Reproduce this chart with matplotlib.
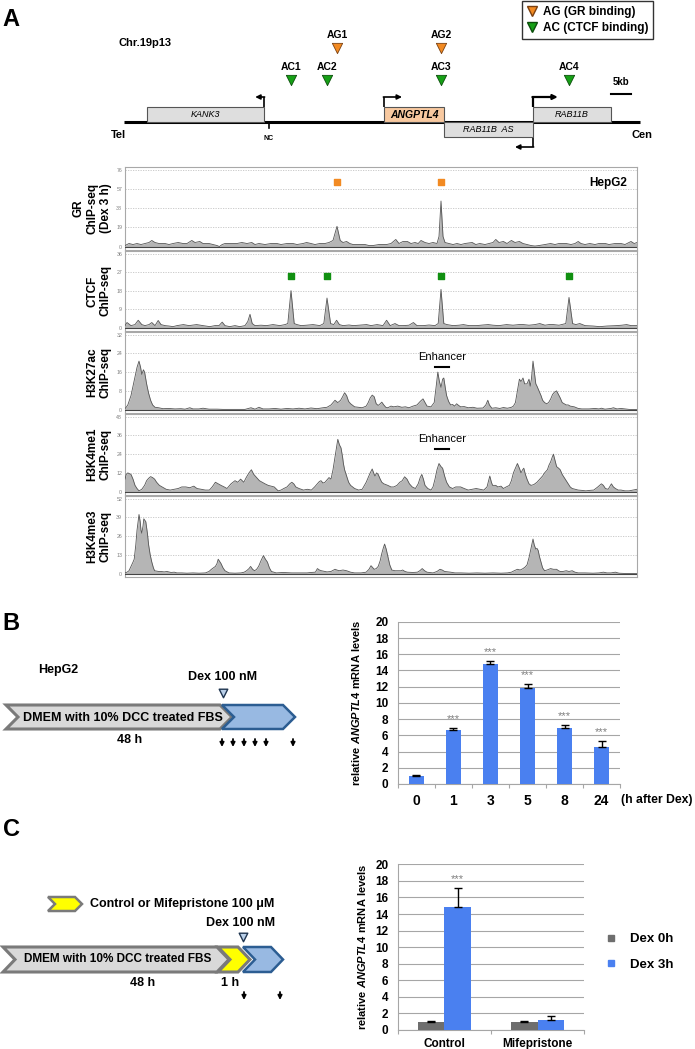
import numpy as np
import matplotlib.pyplot as plt
from matplotlib.patches import Rectangle, Polygon
from matplotlib.lines import Line2D

plt.rcParams['font.family'] = ['Liberation Sans', 'DejaVu Sans']
plt.rcParams['mathtext.fontset'] = 'custom'
plt.rcParams['mathtext.it'] = 'Liberation Sans:italic:bold'
plt.rcParams['mathtext.rm'] = 'Liberation Sans:bold'

W, H = 695, 1049

# ---------------- data ----------------
# genomic positions in kb along the shown locus (0 .. 128 kb)
gene_names = ['KANK3', 'ANGPTL4', 'RAB11B  AS', 'RAB11B']
gene_start = [5.5, 64.75, 79.75, 102.0]
gene_end = [34.75, 79.75, 102.0, 121.5]
gene_strand = [-1, 1, -1, 1]
gene_side = ['up', 'up', 'down', 'up']

ag_names = ['AG1', 'AG2']
ag_sites = [53.0, 79.0]
ac_names = ['AC1', 'AC2', 'AC3', 'AC4']
ac_sites = [41.5, 50.5, 79.0, 111.0]
nc_site = 36.0

# ChIP-seq tracks: (kb, signal)
gr_chip = [(0, 1), (1, 3), (2, 2), (3, 3), (4, 2), (5, 3), (6, 4), (6.7, 6), (7.5, 4), (8.5, 3), (10, 3),
           (11, 2), (12, 3), (13.3, 4), (14.5, 3), (15.5, 3), (16.7, 6), (17.5, 4), (18.7, 5), (19.5, 3),
           (21, 3), (22, 2), (23, 1), (23.6, 0), (24.3, 2), (25, 3), (26, 3), (27, 3), (28, 3), (29.2, 4),
           (30.5, 3), (31.7, 4), (32.5, 2), (33.5, 3), (35, 2), (36.5, 3), (38, 3), (39, 2), (40.5, 3),
           (42, 3), (43, 2), (44.5, 3), (45.4, 4), (46.5, 3), (47.5, 2), (48.7, 3), (50, 3), (51, 4),
           (52, 6), (53, 20), (53.8, 6), (54.5, 4), (55.4, 5), (56.2, 3), (57, 2), (58.5, 2), (60, 2),
           (61, 1), (62, 1), (63.5, 2), (65.4, 2), (66.5, 3), (67.7, 7), (68.5, 3), (69.5, 5), (70.6, 5),
           (71.5, 3), (72.5, 4), (73.3, 3), (74, 6), (75, 4), (76, 3), (77, 4), (78, 3), (78.5, 10),
           (79, 45), (79.5, 10), (80, 4), (81, 3), (82, 2), (83, 3), (84, 2), (85, 3), (86.8, 4), (87.7, 2),
           (88.7, 3), (90, 2), (91, 3), (92, 4), (92.7, 7), (93.5, 4), (94.6, 5), (95.5, 3), (96.6, 6),
           (97.5, 4), (98.6, 5), (99.5, 3), (100.5, 2), (101.5, 1), (102.5, 0.5), (103.5, 1), (105, 2),
           (106.4, 3), (107.5, 2), (108.5, 3), (110.3, 3), (111.5, 2), (112.5, 3), (113.3, 5), (114, 3),
           (115, 2), (116.2, 3), (117.5, 2), (118.5, 3), (120.1, 3), (121, 2), (122.5, 3), (124, 3),
           (125, 2), (126.5, 5), (127.3, 3), (128, 4)]

ctcf_chip = [(0, 1), (0.5, 2.5), (1.5, 1), (2.5, 1.5), (3.3, 3.6), (4.2, 1.5), (5, 1), (6, 1.5), (6.7, 2.5),
             (7.5, 1), (8.3, 3.5), (9, 1.5), (10, 1), (11, 0.8), (12, 0.5), (13, 1), (14.6, 1.5), (16, 1),
             (17.9, 1.5), (19.5, 1), (21.2, 0.5), (22.5, 1), (23.5, 1), (24.3, 2.7), (25, 1), (26.2, 0.5),
             (27.5, 1), (28.7, 0.5), (30, 1), (30.7, 3), (31.25, 6.5), (31.8, 2), (32.5, 1), (34, 1.2),
             (35.4, 1), (37, 1.5), (38.7, 1), (40, 1.5), (40.7, 2), (41.5, 18), (42.3, 2), (43, 1.5),
             (44, 1), (45.4, 1.2), (47, 1.5), (48.7, 1), (49.7, 2), (50.5, 14.4), (51.4, 2), (52.2, 1.5),
             (52.9, 3.6), (53.6, 1.5), (54.5, 1), (56, 1.3), (57.1, 1), (58.5, 1.2), (60.4, 1.5), (61.5, 1),
             (63, 1.5), (64.5, 1), (65.4, 3.6), (66.3, 1), (67.5, 2), (68.5, 1), (69.6, 1), (71, 1.2),
             (72.1, 2.5), (73, 1), (74.6, 1), (76, 1.3), (77.5, 1), (78.3, 2), (79, 18.6), (79.7, 2),
             (80.5, 1.5), (82, 1), (83.5, 1.2), (84.6, 1.5), (86, 1), (87.9, 1), (89.5, 1.3), (90.8, 1.5),
             (92, 1.2), (93.5, 1), (95.4, 1.5), (97, 1.2), (98.5, 1.5), (99.6, 1.5), (101, 1.2), (102.5, 1.5),
             (103.7, 2), (105, 1.2), (106, 1.5), (107.1, 1.5), (108.5, 1.2), (110.2, 2), (111, 14.7),
             (111.9, 2), (112.7, 1.5), (113.7, 2), (115, 1), (117, 0.8), (118.7, 0.5), (120.5, 0.8),
             (122.9, 1), (124.2, 1.2), (125.4, 1.5), (126.5, 1), (127.1, 1), (128, 1)]

h3k27ac_chip = [(0, 0.5), (0.3, 1), (0.7, 2), (1.5, 6), (2, 10), (2.5, 14), (3, 18), (3.5, 20.7), (3.9, 18),
                (4.2, 15), (4.6, 17), (4.9, 16), (5.4, 11), (5.9, 7), (6.4, 4), (6.9, 2), (7.5, 1), (8.4, 0.8),
                (9.5, 0.4), (11, 0.5), (12.5, 0.3), (14, 0.4), (15, 0.2), (16.2, 0.8), (17, 0.3), (18.5, 0.3),
                (19.5, 0.6), (21, 0.2), (23, 0.2), (24.5, 0.1), (30, 0.1), (31.5, 0.8), (32.5, 0.2), (33.5, 1),
                (34.5, 0.3), (36, 0.3), (37.5, 0.5), (39, 0.2), (40.5, 0.5), (42, 0.3), (43.5, 0.6), (45, 0.3),
                (46.5, 0.7), (48, 0.4), (49.5, 0.8), (50.5, 1), (51.5, 2), (52.5, 4), (53.2, 3), (53.9, 4),
                (54.4, 5.5), (54.9, 7.2), (55.4, 6), (55.9, 3.5), (56.4, 2.5), (57.4, 1.2), (58.4, 1),
                (59.3, 0.8), (60.3, 1.5), (60.8, 3), (61.3, 5), (61.8, 6.2), (62.3, 5.5), (62.8, 2.5),
                (63.3, 1.8), (63.8, 2.5), (64.2, 3.2), (64.7, 2), (65.2, 1), (65.7, 0.8), (66.5, 1.5),
                (67.2, 1.2), (68.2, 1.5), (69.2, 1), (70.1, 1.2), (71, 0.8), (72, 1.5), (73, 2), (73.8, 3.5),
                (74.5, 4.6), (75, 3), (75.5, 1.5), (76.5, 1.2), (77.3, 3), (77.8, 10), (78.2, 16), (78.6, 12),
                (79, 9.5), (79.4, 13), (79.7, 13.5), (80.1, 9), (80.4, 6), (80.9, 3.5), (81.4, 2), (81.9, 2.2),
                (82.4, 1.5), (82.9, 2.5), (83.4, 1.8), (83.9, 1.2), (84.8, 1.3), (85.8, 0.8), (87, 1),
                (88, 0.6), (89.5, 0.7), (90.2, 2), (90.7, 4), (91.1, 2), (91.7, 0.6), (92.7, 0.8), (93.7, 0.5),
                (94.6, 0.9), (95.6, 0.6), (96.6, 1), (97.1, 1.5), (97.6, 3), (98.1, 8), (98.6, 13), (99, 12),
                (99.5, 13.5), (99.9, 11), (100.5, 11), (101, 13), (101.3, 10), (101.6, 13), (102, 20.7),
                (102.4, 15), (102.7, 11), (103, 10), (103.5, 8), (104, 6), (104.4, 4), (104.9, 3), (105.4, 2.5),
                (105.9, 3), (106.4, 4.5), (106.9, 6.5), (107.4, 7.5), (107.9, 8), (108.2, 7), (108.8, 5),
                (109.3, 3), (109.8, 2.5), (110.3, 2), (110.8, 2), (111.3, 1.5), (112.3, 1.2), (113.3, 0.5),
                (114.2, 0.3), (116, 0.3), (117.5, 0.5), (118.5, 0.3), (119.1, 0.6), (120, 0.2), (121.5, 0.5),
                (122.1, 0.8), (123, 0.3), (124, 0.5), (125, 0.3), (126, 0.1), (128, 0)]

h3k4me1_chip = [(0, 8), (0.3, 11), (0.7, 12), (1.5, 11), (2, 8), (2.5, 4), (3, 2), (3.5, 0.5), (4.2, 1.5),
                (4.9, 4), (5.4, 7), (5.9, 8.5), (6.4, 9.6), (6.9, 9), (7.4, 8), (7.9, 6), (8.6, 4), (9.3, 3),
                (10.3, 1.5), (11.3, 1), (12.3, 1.5), (13.3, 2), (14.2, 3), (15.2, 3), (16.2, 2.5), (17.2, 3.5),
                (18, 2), (19.1, 1.5), (20.1, 1), (21.1, 1), (21.8, 3), (22.6, 6), (23.3, 5), (24, 4), (24.8, 3),
                (25.5, 2), (26.5, 5), (27.5, 7), (28.2, 6), (28.9, 8), (29.7, 6), (30.3, 9), (31, 12),
                (31.6, 14), (32.2, 11), (32.9, 9), (33.6, 7), (34.3, 6), (35, 5), (35.8, 4), (36.5, 3.5),
                (37.3, 3), (38.3, 0.5), (39, 1), (39.7, 2), (40.5, 3), (41.2, 5), (41.7, 6), (42.2, 5),
                (42.7, 3), (43.5, 2), (44.6, 1), (45.6, 1.5), (46.6, 1), (47.4, 3), (48.1, 5), (48.6, 6.5),
                (49, 7), (49.5, 5.5), (50, 6), (50.5, 7.5), (51, 9), (51.5, 8), (52, 14), (52.5, 22),
                (53.2, 33.5), (53.6, 30), (54, 28), (54.4, 22), (54.6, 18), (54.9, 14), (55.4, 10), (55.9, 6),
                (56.4, 4), (57.4, 2), (58.4, 1), (59.3, 1.5), (60.3, 6), (60.8, 9), (61.3, 12), (61.8, 14.5),
                (62.3, 11), (62.5, 10), (62.9, 12), (63.3, 11), (63.8, 8), (64.2, 6), (64.7, 5), (65.7, 4),
                (66.5, 3), (67.2, 3), (68, 4), (68.7, 6), (69.3, 7), (69.9, 9.5), (70.5, 8), (71.1, 5),
                (71.8, 3), (72.6, 2), (73.3, 5), (73.8, 9), (74.2, 11), (74.6, 8), (75, 4), (75.7, 2),
                (76.5, 1), (77, 3), (77.5, 8), (78, 14), (78.5, 18), (79, 16), (79.4, 15), (79.9, 10),
                (80.4, 6), (81.1, 3), (81.9, 2), (82.7, 3), (83.9, 3), (84.8, 2), (85.8, 1), (86.8, 1.5),
                (87.8, 2), (88.7, 1.5), (89.7, 1), (90.5, 3), (91.2, 10), (91.6, 6), (91.9, 4), (92.7, 4),
                (93.2, 3), (94, 3.5), (94.6, 2), (95.3, 3), (96.1, 4), (96.6, 7), (97.1, 12), (97.6, 15),
                (98.1, 18), (98.6, 15), (99, 12), (99.4, 14), (99.7, 15), (100.1, 11), (100.5, 8), (101, 5),
                (101.5, 4), (102.2, 4.5), (103, 6), (103.7, 8), (104.4, 10), (104.9, 12), (105.6, 14),
                (106, 17), (106.4, 19), (106.8, 22), (107.1, 24), (107.5, 20), (107.9, 16), (108.4, 15),
                (108.8, 14), (109.3, 11), (109.8, 9), (110.3, 7), (110.8, 5), (111.3, 3), (111.8, 2),
                (112.5, 1.5), (113.3, 1), (114.2, 0.8), (115.2, 0.5), (116.2, 0.8), (117.2, 1), (118.2, 3),
                (119.1, 5), (119.6, 4), (120.1, 2), (120.8, 1.5), (121.6, 5), (122.1, 3), (122.6, 2),
                (123.3, 1), (124, 1), (125, 0.5), (126, 0.5), (127, 1), (128, 1.5)]

h3k4me3_chip = [(0, 0.5), (0.5, 1), (1, 2), (1.5, 5), (2, 8), (2.3, 10), (2.7, 20), (3, 30), (3.5, 41),
                (3.8, 36), (4, 30), (4.2, 28), (4.5, 33), (4.7, 38), (5.2, 36), (5.6, 28), (5.9, 20),
                (6.3, 13), (6.7, 8), (7.1, 4), (7.4, 2), (8.4, 1.5), (9, 1.5), (9.8, 1.2), (10.5, 1.5),
                (11.5, 0.8), (12.3, 1), (13, 0.5), (14.2, 0.5), (15.5, 0.3), (17, 0.5), (18.5, 0.3),
                (20.1, 0.5), (21, 1.5), (21.6, 3), (22.6, 5), (23, 7), (23.3, 10), (24, 7), (24.5, 4),
                (25, 2), (26, 0.5), (27.5, 0.3), (29, 0.5), (29.8, 1), (30.4, 2), (31, 3.5), (31.4, 5),
                (31.9, 3), (32.4, 2), (32.9, 3), (33.4, 5), (34, 9), (34.6, 12.5), (35.1, 10), (35.6, 8),
                (36.1, 4), (36.6, 1.5), (37.8, 0.5), (39.5, 0.8), (41.7, 0.5), (43.7, 0.5), (45.5, 0.5),
                (46.5, 0.8), (47.6, 1), (48.1, 3.5), (48.6, 2.5), (49.1, 2), (50, 1.5), (50.5, 1.2),
                (51.5, 1.5), (52.5, 3), (53, 2.5), (53.5, 2), (54.5, 2.5), (55.4, 2), (56.4, 1), (57.4, 0.5),
                (59, 0.5), (60.3, 1), (61, 3), (61.5, 5.5), (62, 4), (62.3, 3), (62.8, 3.5), (63.3, 5),
                (63.8, 9), (64.2, 14), (64.6, 18), (64.9, 20.5), (65.3, 17), (65.7, 12), (66.2, 6),
                (66.7, 2.5), (67.5, 2), (68.2, 2), (69, 2), (69.4, 2.5), (70, 1.5), (70.6, 1), (72, 0.8),
                (73.1, 1), (73.7, 2), (74.3, 3.5), (74.9, 2), (75.5, 1), (77, 0.5), (78, 1.5), (78.75, 3),
                (79.3, 2.5), (79.9, 1.5), (81.4, 1), (82.5, 0.5), (84, 0.5), (86, 0.3), (88, 0.5), (90, 0.3),
                (92, 0.5), (94, 0.3), (95.6, 0.5), (96.6, 1), (97.3, 2), (98.1, 3), (98.8, 2.5), (99.5, 3.5),
                (100, 4.5), (100.5, 6), (101, 11), (101.3, 15), (101.6, 19), (102, 24), (102.3, 20),
                (102.7, 17), (103, 17.5), (103.3, 16), (103.6, 12), (104, 8), (104.4, 4), (104.9, 2),
                (105.5, 2.5), (106.4, 3.5), (107.1, 3), (107.9, 3), (108.4, 2), (108.8, 1.5), (109.5, 1.5),
                (110.3, 2), (111, 1.5), (111.8, 2), (112.5, 1), (113.3, 0.5), (115, 0.5), (117, 0.3),
                (118.5, 0.5), (119.6, 1), (120.5, 0.5), (121.5, 0.5), (122.6, 1), (123.5, 0.3), (125, 0.1),
                (128, 0)]

track_labels = ['GR\nChIP-seq\n(Dex 3 h)', 'CTCF\nChIP-seq', 'H3K27ac\nChIP-seq',
                'H3K4me1\nChIP-seq', 'H3K4me3\nChIP-seq']
track_max = [76, 36, 32, 48, 52]
track_data = [gr_chip, ctcf_chip, h3k27ac_chip, h3k4me1_chip, h3k4me3_chip]

# panel B: time course after Dex
hours = ['0', '1', '3', '5', '8', '24']
mrna_mean = [1.0, 6.6, 14.8, 11.8, 6.9, 4.6]
mrna_err = [0.15, 0.3, 0.35, 0.5, 0.4, 0.7]
mrna_sig = ['', '***', '***', '***', '***', '***']

# panel C: mifepristone
treatments = ['Control', 'Mifepristone']
dex0_mean = [1.0, 1.0]
dex0_err = [0.05, 0.05]
dex3_mean = [14.9, 1.15]
dex3_err = [2.25, 0.5]
dex3_sig = ['***', '']

ORANGE = '#f28a22'
GREEN = '#16a016'
BLUE = '#4a80f0'
GRAYBAR = '#6e6e6e'


def px_rect(x0, y0, x1, y1):
    return [x0 / W, 1 - y1 / H, (x1 - x0) / W, (y1 - y0) / H]


def ftxt(x, y, s, **kw):
    fig.text(x / W, 1 - y / H, s, **kw)


fig = plt.figure(figsize=(W / 100, H / 100), dpi=100)

# overlay in pixel coordinates for the schematics of B and C
ov = fig.add_axes([0, 0, 1, 1])
ov.set_xlim(0, W)
ov.set_ylim(H, 0)
ov.axis('off')

# ---------------- panel A: locus schematic ----------------
sc = fig.add_axes(px_rect(125, 0, 637, 160))
sc.set_xlim(0, 128)
sc.set_ylim(160, 0)
sc.axis('off')

ftxt(11, 20, 'A', fontsize=17, fontweight='bold', ha='center', va='center')
ftxt(145, 43, 'Chr.19p13', fontsize=8, fontweight='bold', ha='center', va='center')

sc.plot([-0.25, 128.75], [122, 122], color='k', lw=2.2, solid_capstyle='butt', clip_on=False)
sc.text(-1.75, 135, 'Tel', fontsize=8, fontweight='bold', ha='center', va='center')
sc.text(129.25, 135, 'Cen', fontsize=8, fontweight='bold', ha='center', va='center')
sc.plot([nc_site, nc_site], [122, 128], color='k', lw=1.2)
sc.text(nc_site, 138, 'NC', fontsize=5, fontweight='bold', ha='center', va='center')

for name, s, e, strand, side in zip(gene_names, gene_start, gene_end, gene_strand, gene_side):
    is_main = name == 'ANGPTL4'
    y0 = 107 if side == 'up' else 122
    sc.add_patch(Rectangle((s, y0), e - s, 15, facecolor='#f8c9a0' if is_main else '#dedede',
                           edgecolor='#555555', lw=0.8, zorder=3))
    sc.text((s + e) / 2, y0 + 7.5, name, fontsize=7.5 if is_main else 6.5, style='italic',
            fontweight='bold' if is_main else 'normal', ha='center', va='center', zorder=4)
    tss = s if strand > 0 else e
    if side == 'up':
        ya, yb = y0, y0 - 10
    else:
        ya, yb = y0 + 15, y0 + 25
    big = name == 'RAB11B'
    sc.plot([tss, tss], [ya, yb], color='k', lw=1.6 if big else 1.2, solid_capstyle='butt')
    length = 6.2 if big else (2.2 if name == 'KANK3' else 4.5)
    sc.annotate('', xy=(tss + strand * length, yb), xytext=(tss - strand * 0.15, yb),
                arrowprops=dict(arrowstyle='-|>', color='k', lw=1.6 if big else 1.2,
                                mutation_scale=7, shrinkA=0, shrinkB=0))

sc.scatter(ag_sites, [48] * len(ag_sites), marker='v', s=55, color=ORANGE, edgecolors='#7a4010', lw=0.6)
sc.scatter(ac_sites, [80] * len(ac_sites), marker='v', s=55, color=GREEN, edgecolors='#0b4d0b', lw=0.6)
for n, x in zip(ag_names, ag_sites):
    sc.text(x, 35, n, fontsize=7.5, fontweight='bold', ha='center', va='center')
for n, x in zip(ac_names, ac_sites):
    sc.text(x, 67, n, fontsize=7.5, fontweight='bold', ha='center', va='center')

sc.plot([121.5, 126.5], [94, 94], color='k', lw=1.5)
sc.text(124, 82, '5kb', fontsize=7, fontweight='bold', ha='center', va='center')

leg = fig.legend(handles=[Line2D([], [], marker='v', ls='none', markersize=7, mfc=ORANGE, mec='#7a4010',
                                 label='AG (GR binding)'),
                          Line2D([], [], marker='v', ls='none', markersize=7, mfc=GREEN, mec='#0b4d0b',
                                 label='AC (CTCF binding)')],
                 loc='upper right', bbox_to_anchor=(653 / W, 1 - 1 / H), frameon=True, fancybox=False,
                 edgecolor='k', prop={'weight': 'bold', 'size': 8.5}, handlelength=1.0, handletextpad=0.4,
                 borderpad=0.4, labelspacing=0.35, borderaxespad=0)
leg.get_frame().set_linewidth(1.0)

# ---------------- panel A: ChIP-seq tracks ----------------
track_px = [(167, 250), (251, 331), (332, 413), (414, 495), (496, 577)]
tracks = []
for (y0, y1), sig, ymax, lab in zip(track_px, track_data, track_max, track_labels):
    ax = fig.add_axes(px_rect(125, y0, 637, y1))
    pos = [p for p, v in sig]
    val = [v for p, v in sig]
    ax.fill_between(pos, val, 0, color='#b5b5b5', lw=0, zorder=2)
    ax.plot(pos, val, color='#555555', lw=0.6, zorder=3)
    ax.axhline(0, color='#444444', lw=0.8, zorder=3)
    ax.set_xlim(0, 128)
    ax.set_ylim(-0.045 * ymax, 1.035 * ymax)
    ticks = np.linspace(0, ymax, 5)
    ax.set_yticks(ticks)
    ax.set_yticklabels([str(int(t)) for t in ticks])
    ax.tick_params(axis='y', length=0, pad=2, labelsize=3.8, labelcolor='#808080')
    ax.set_xticks([])
    ax.yaxis.grid(True, ls=(0, (1.5, 1.5)), color='#c4c4c4', lw=0.6)
    for sp in ax.spines.values():
        sp.set_color('#a8a8a8')
        sp.set_linewidth(0.8)
    ftxt(112, (y0 + y1) / 2, lab, fontsize=8.5, fontweight='bold', rotation=90, ha='right', va='center',
         multialignment='center', linespacing=1.2)
    tracks.append(ax)

tracks[0].scatter(ag_sites, [64] * len(ag_sites), marker='s', s=14, color=ORANGE, zorder=5)
tracks[0].text(0.98, 0.81, 'HepG2', transform=tracks[0].transAxes, fontsize=8.5, fontweight='bold',
               ha='right', va='center')
tracks[1].scatter(ac_sites, [25] * len(ac_sites), marker='s', s=14, color='#119011', zorder=5)
for ax, ty, by in [(tracks[2], 22.5, 18.2), (tracks[3], 34, 27)]:
    ax.text(79.2, ty, 'Enhancer', fontsize=8, ha='center', va='center')
    ax.plot([77.5, 80.9], [by, by], color='k', lw=1.5)


# ---------------- schematics B and C ----------------
def chevron(xl, tip, yt, yb, depth, fc, ec, lw):
    ym = (yt + yb) / 2
    pts = [(xl, yt), (tip - depth, yt), (tip, ym), (tip - depth, yb), (xl, yb), (xl + depth, ym)]
    ov.add_patch(Polygon(pts, closed=True, facecolor=fc, edgecolor=ec, lw=lw, joinstyle='miter'))


def down_arrow(x, y):
    ov.annotate('', xy=(x, y + 5), xytext=(x, y - 3),
                arrowprops=dict(arrowstyle='-|>', color='k', lw=1.3, mutation_scale=6, shrinkA=0, shrinkB=0))


ftxt(11, 624, 'B', fontsize=17, fontweight='bold', ha='center', va='center')
ftxt(58, 670, 'HepG2', fontsize=9, fontweight='bold', ha='center', va='center')
ftxt(223, 677, 'Dex 100 nM', fontsize=9, fontweight='bold', ha='center', va='center')
ov.scatter([223], [693], marker='v', s=38, color='#b9cfe8', edgecolors='#1f3550', lw=1.0)
chevron(6, 232, 705, 729, 12, '#d9d9d9', '#7a7a7a', 2.2)
chevron(222, 295, 705, 729, 12, '#98b9e2', '#2c5d92', 1.8)
ftxt(123, 718, 'DMEM with 10% DCC treated FBS', fontsize=9, fontweight='bold', ha='center', va='center')
ftxt(130, 740, '48 h', fontsize=9, fontweight='bold', ha='center', va='center')
for x in [222, 233, 244, 255, 266, 293]:
    down_arrow(x, 742)

ftxt(11, 829, 'C', fontsize=17, fontweight='bold', ha='center', va='center')
chevron(48, 82, 897, 911, 7, '#ffff00', '#7a7a7a', 1.8)
ftxt(90, 904, 'Control or Mifepristone 100 \u03bcM', fontsize=9, fontweight='bold', ha='left', va='center')
ftxt(241, 923, 'Dex 100 nM', fontsize=9, fontweight='bold', ha='center', va='center')
ov.scatter([243], [937], marker='v', s=38, color='#b9cfe8', edgecolors='#1f3550', lw=1.0)
chevron(3, 229, 947, 972, 12, '#d9d9d9', '#7a7a7a', 2.2)
chevron(218, 250, 947, 972, 12, '#ffff00', '#7a7a7a', 2.2)
chevron(243, 283, 947, 972, 12, '#98b9e2', '#2c5d92', 1.8)
ftxt(118, 959, 'DMEM with 10% DCC treated FBS', fontsize=8.5, fontweight='bold', ha='center', va='center')
ftxt(143, 983, '48 h', fontsize=9, fontweight='bold', ha='center', va='center')
ftxt(230, 983, '1 h', fontsize=9, fontweight='bold', ha='center', va='center')
for x in [244, 280]:
    down_arrow(x, 995)


# ---------------- bar charts ----------------
def style_bar_axes(ax, ylab):
    ax.set_ylim(0, 20)
    ax.set_yticks(range(0, 21, 2))
    ax.yaxis.grid(True, color='#a6a6a6', lw=0.8)
    ax.set_axisbelow(True)
    for side in ['top', 'right']:
        ax.spines[side].set_visible(False)
    for side in ['left', 'bottom']:
        ax.spines[side].set_color('#a6a6a6')
        ax.spines[side].set_linewidth(0.8)
    ax.tick_params(axis='y', length=0, pad=7, labelsize=8.5)
    for t in ax.get_yticklabels():
        t.set_fontweight('bold')
    ax.tick_params(axis='x', which='minor', length=3, color='#a6a6a6', width=0.8)
    ax.tick_params(axis='x', which='major', length=0)
    ax.set_ylabel(ylab, fontsize=8, fontweight='bold')
    ax.yaxis.set_label_coords(-0.16, 0.5)


ylab = r'relative $\mathit{ANGPTL4}$ mRNA levels'

axB = fig.add_axes(px_rect(398, 621.8, 620, 784))
xb = np.arange(len(hours))
axB.bar(xb, mrna_mean, width=0.4, color=BLUE, zorder=3)
axB.errorbar(xb, mrna_mean, yerr=[np.zeros(len(xb)), mrna_err], fmt='none', ecolor='k', elinewidth=1,
             capsize=3, capthick=1, zorder=4)
for x, m, e, s in zip(xb, mrna_mean, mrna_err, mrna_sig):
    axB.text(x, m + e + 0.5, s, ha='center', va='bottom', fontsize=8, color='#7f7f7f')
axB.set_xlim(-0.5, len(hours) - 0.5)
axB.set_xticks(xb)
axB.set_xticklabels(hours, fontsize=10, fontweight='bold')
axB.set_xticks(np.arange(-0.5, len(hours)), minor=True)
axB.tick_params(axis='x', which='major', pad=7)
style_bar_axes(axB, ylab)
ftxt(621, 800, '(h after Dex)', fontsize=8.8, fontweight='bold', ha='left', va='center')

axC = fig.add_axes(px_rect(398, 864.3, 584, 1030))
xc = np.arange(len(treatments))
axC.bar(xc - 0.14, dex0_mean, width=0.28, color=GRAYBAR, zorder=3, label='Dex 0h')
axC.bar(xc + 0.14, dex3_mean, width=0.28, color=BLUE, zorder=3, label='Dex 3h')
axC.errorbar(xc - 0.14, dex0_mean, yerr=[np.zeros(2), dex0_err], fmt='none', ecolor='k', elinewidth=1,
             capsize=3, capthick=1, zorder=4)
axC.errorbar(xc + 0.14, dex3_mean, yerr=[np.zeros(2), dex3_err], fmt='none', ecolor='k', elinewidth=1,
             capsize=3, capthick=1, zorder=4)
for x, m, e, s in zip(xc, dex3_mean, dex3_err, dex3_sig):
    axC.text(x + 0.14, m + e + 0.5, s, ha='center', va='bottom', fontsize=8, color='#7f7f7f')
axC.set_xlim(-0.5, 1.5)
axC.set_xticks(xc)
axC.set_xticklabels(treatments, fontsize=8.5, fontweight='bold')
axC.set_xticks([-0.5, 0.5, 1.5], minor=True)
axC.tick_params(axis='x', which='major', pad=6)
style_bar_axes(axC, ylab)
legC = axC.legend(handles=[Line2D([], [], marker='s', ls='none', markersize=5, color=GRAYBAR, label='Dex 0h'),
                           Line2D([], [], marker='s', ls='none', markersize=5, color=BLUE, label='Dex 3h')],
                  loc='center left', bbox_to_anchor=(604 / W, 1 - 952 / H), bbox_transform=fig.transFigure,
                  frameon=False, prop={'weight': 'bold', 'size': 9.5}, handlelength=1.0, handletextpad=1.0,
                  labelspacing=1.0, borderpad=0, borderaxespad=0)

fig.savefig('out.png', dpi=100)
